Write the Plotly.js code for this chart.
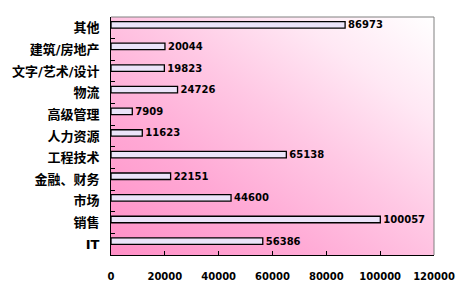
<!DOCTYPE html>
<html>
<head>
<meta charset="utf-8">
<script src="https://cdn.plot.ly/plotly-3.0.1.min.js"></script>
<style>
html,body{margin:0;padding:0;background:#ffffff;}
#wrap{position:relative;width:470px;height:298px;}
#bg{position:absolute;left:111px;top:17px;width:323px;height:238px;
background:linear-gradient(to top right,#ff8fc6 0%,#ffa9d5 30%,#ffc8e4 55%,#ffe8f4 78%,#ffffff 100%);}
#chart{position:absolute;left:0;top:0;width:470px;height:298px;}
</style>
</head>
<body>
<div id="wrap"><div id="bg"></div><div id="chart"></div></div>
<script>
const categories = ["IT","销售","市场","金融、财务","工程技术","人力资源","高级管理","物流","文字/艺术/设计","建筑/房地产","其他"];
const values = [56386,100057,44600,22151,65138,11623,7909,24726,19823,20044,86973];
const xTicks = [0,20000,40000,60000,80000,100000,120000];

const trace = {
  type:'bar', orientation:'h',
  x: values, y: categories,
  width:0.3, offset:-0.01,
  marker:{color:'#ebe4f9', line:{color:'#000000', width:1.3}},
  text: values.map(String),
  textposition:'outside',
  constraintext:'none',
  textfont:{family:'DejaVu Sans', size:10, color:'#000', weight:'bold'},
  cliponaxis:false,
  hoverinfo:'none'
};
const layout = {
  width:470, height:298,
  margin:{l:111, r:36, t:17, b:43},
  paper_bgcolor:'rgba(0,0,0,0)', plot_bgcolor:'rgba(0,0,0,0)',
  showlegend:false,
  xaxis:{range:[0,120000], tickvals:xTicks, ticktext:xTicks.map(String),
    ticks:'inside', ticklen:4, tickcolor:'#000', showgrid:false, zeroline:false,
    showline:true, linecolor:'#000', linewidth:1, ticklabelstandoff:12,
    tickfont:{family:'DejaVu Sans', size:10, color:'#000', weight:'bold'}, fixedrange:true},
  yaxis:{type:'category', categoryorder:'array', categoryarray:categories, range:[-0.5,10.5],
    ticks:'inside', tickson:'boundaries', ticklen:4, tickcolor:'#000', showgrid:false, zeroline:false,
    showline:true, linecolor:'#000', linewidth:1, ticklabelstandoff:8,
    tickfont:{family:'DejaVu Sans, Noto Sans CJK SC', size:13, color:'#000', weight:'bold'}, fixedrange:true},
  shapes:[
    {type:'line', xref:'paper', yref:'paper', x0:0, x1:1, y0:1, y1:1, line:{color:'#808080', width:1}},
    {type:'line', xref:'paper', yref:'paper', x0:1, x1:1, y0:0, y1:1, line:{color:'#808080', width:1}}
  ]
};
Plotly.newPlot('chart',[trace],layout,{displayModeBar:false, staticPlot:true});
</script>
</body>
</html>
